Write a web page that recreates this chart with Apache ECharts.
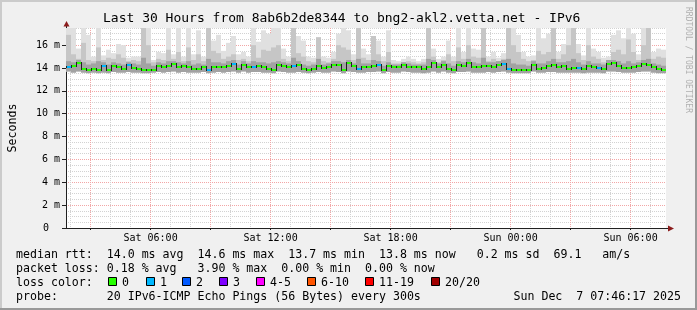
<!DOCTYPE html>
<html><head><meta charset="utf-8">
<script src="https://cdn.jsdelivr.net/npm/echarts@6/dist/echarts.min.js"></script>
<style>html,body{margin:0;padding:0;background:#f0f0f0;}#c{width:697px;height:310px;}</style>
</head><body><div id="c"></div>
<script>
// ---- data (milliseconds), 15-minute bins starting Sat 01:46:17 ----
const startHour = 1 + 46/60 + 17/3600;   // hours since Sat 00:00
const spanHours = 30;
const stepHours = 0.25;

const medianMs = [
 14.1,14.15,14.45,13.9,13.8,13.95,13.8,14.2,13.85,14.2,
 14.05,13.95,14.25,14.0,13.95,13.8,13.8,13.85,14.15,14.05,
 14.2,14.35,14.1,14.2,14.05,13.95,13.95,14.05,13.85,14.05,
 14.1,14.1,14.2,14.35,13.9,14.3,14.05,14.1,14.15,14.05,
 13.9,13.85,14.25,14.15,14.1,14.15,14.25,13.9,13.85,13.95,
 14.2,14.0,14.05,14.3,14.25,13.8,14.4,14.15,13.95,14.05,
 14.1,14.2,14.3,13.8,14.15,14.05,14.1,14.3,14.1,14.05,
 14.05,13.95,14.05,14.4,14.1,14.3,13.9,13.85,14.25,14.2,
 14.4,14.1,14.05,14.15,14.2,14.1,14.25,14.35,13.95,13.85,
 13.8,13.85,13.85,14.3,13.95,14.0,14.2,14.25,14.1,14.15,
 13.95,14.0,14.0,13.9,14.15,14.1,14.0,13.95,14.35,14.4,
 14.2,14.0,14.0,14.05,14.15,14.35,14.3,14.05,13.9,13.85];

const smokeMinMs = [
 13.7,13.6,13.7,13.6,13.55,13.6,13.55,13.6,13.55,13.65,
 13.6,13.6,13.65,13.6,13.6,13.55,13.55,13.6,13.65,13.6,
 13.65,13.7,13.6,13.65,13.6,13.6,13.6,13.65,13.55,13.6,
 13.65,13.6,13.65,13.7,13.6,13.7,13.6,13.65,13.65,13.6,
 13.6,13.55,13.7,13.65,13.6,13.6,13.65,13.6,13.55,13.6,
 13.65,13.6,13.6,13.7,13.65,13.55,13.7,13.65,13.6,13.6,
 13.65,13.65,13.7,13.55,13.65,13.6,13.6,13.7,13.65,13.6,
 13.6,13.55,13.6,13.7,13.6,13.7,13.6,13.55,13.65,13.65,
 13.7,13.6,13.6,13.6,13.65,13.6,13.65,13.7,13.6,13.55,
 13.55,13.55,13.55,13.7,13.6,13.6,13.65,13.65,13.6,13.6,
 13.6,13.6,13.6,13.55,13.6,13.6,13.6,13.55,13.7,13.7,
 13.65,13.6,13.6,13.6,13.65,13.7,13.7,13.6,13.55,13.55];

const smokeDarkMs = [
 14.6,14.5,14.7,14.5,14.3,14.4,14.6,14.5,14.3,14.5,
 14.4,14.3,14.5,14.4,14.3,14.9,14.4,14.2,14.5,14.4,
 14.6,14.6,14.5,14.4,14.6,14.3,14.4,14.3,14.8,14.5,
 14.5,14.4,14.6,14.7,14.3,14.6,14.4,14.6,14.5,14.5,
 14.4,14.5,14.6,14.5,14.4,14.9,14.6,14.3,14.2,14.3,
 14.8,14.3,14.4,14.6,14.6,14.5,14.7,14.4,14.8,14.4,
 14.4,14.7,14.6,14.2,14.5,14.3,14.3,14.5,14.4,14.3,
 14.3,14.3,14.8,14.7,14.4,14.6,14.4,14.2,14.6,14.5,
 14.8,14.5,14.4,14.9,14.5,14.5,14.6,14.7,14.8,14.4,
 14.3,14.3,14.2,14.6,14.4,14.4,14.6,14.8,14.5,14.5,
 14.6,14.8,14.5,14.3,14.6,14.4,14.4,14.3,14.7,14.7,
 14.6,14.4,14.6,14.4,14.5,14.7,14.8,14.4,14.3,14.2];

const smokeMidMs = [
 16.9,15.2,14.8,16.2,14.7,14.6,15.8,14.7,14.9,14.8,
 15.2,14.9,14.6,14.7,14.6,17.5,16.0,14.5,14.8,14.7,
 15.6,14.8,15.4,14.6,15.8,14.7,15.2,14.6,17.5,15.5,
 15.3,14.8,15.0,15.2,14.7,14.8,14.6,16.0,14.9,15.6,
 15.5,15.8,16.0,14.8,14.6,17.5,15.3,15.0,14.6,14.5,
 16.7,14.6,14.5,14.8,16.0,15.8,15.6,14.7,17.5,14.9,
 14.7,16.8,15.2,14.6,15.4,14.4,14.4,14.5,14.6,14.5,
 14.4,14.5,17.5,15.0,14.5,14.7,15.2,14.6,15.8,14.8,
 16.0,15.0,14.9,17.5,14.6,14.8,14.6,14.8,17.5,16.0,
 15.4,14.8,14.6,14.7,15.5,15.2,15.4,17.5,14.8,15.2,
 16.0,17.5,15.3,14.7,16.0,15.0,14.8,14.5,14.6,15.4,
 15.6,15.2,16.5,15.4,14.7,16.0,17.5,14.8,15.0,14.9];

const smokeMaxMs = [
 17.5,17.5,15.7,17.5,16.9,15.0,17.5,15.1,15.6,15.3,
 16.1,16.0,14.9,15.0,15.0,17.5,17.5,14.7,15.4,15.3,
 17.5,15.2,17.5,15.0,17.5,15.2,17.3,15.0,17.5,16.4,
 16.9,15.5,16.2,16.8,15.2,15.4,15.0,17.5,16.3,17.3,
 17.0,17.5,17.5,15.7,15.0,17.5,16.8,16.4,15.0,14.9,
 16.6,15.0,14.9,15.4,17.0,17.5,17.3,15.2,17.5,15.7,
 15.2,16.8,16.4,15.0,17.3,14.7,14.6,14.8,15.0,14.8,
 14.6,14.8,17.5,15.7,14.8,15.0,16.4,15.0,17.5,15.4,
 17.5,15.7,15.6,17.5,15.0,15.4,14.9,15.3,17.5,17.5,
 16.9,15.4,15.0,15.1,17.5,16.6,17.0,17.5,15.4,16.1,
 17.5,17.5,16.1,15.1,17.5,15.7,15.4,14.9,15.0,16.9,
 17.3,16.6,17.5,17.0,15.2,17.5,17.5,15.4,15.7,15.6];

// lost pings (of 20) per bin
const lossPings = [
 1,0,0,0,0,0,0,1,0,0, 0,0,1,0,0,0,0,0,0,0,
 0,0,0,0,0,0,0,0,1,0, 0,0,0,1,0,0,0,1,0,0,
 0,0,0,0,0,1,0,0,0,0, 0,0,0,0,0,0,0,0,1,0,
 0,0,1,0,0,0,0,0,0,0, 0,0,0,0,0,0,0,0,0,0,
 0,0,0,0,0,0,0,1,1,0, 0,0,0,0,0,0,0,0,0,0,
 0,0,1,0,0,0,1,0,0,0, 0,0,0,0,0,0,0,0,0,0];

const yMajorTicks = [0,2,4,6,8,10,12,14,16];
const yMinorTicks = [0.5,1,1.5,2.5,3,3.5,4.5,5,5.5,6.5,7,7.5,8.5,9,9.5,10.5,11,11.5,12.5,13,13.5,14.5,15,15.5,16.5,17,17.5];
const xMinorTicks = [2,4,5,7,8,10,11,13,14,16,17,19,20,22,23,25,26,28,29,31];
const xMajorTicks = [3,6,9,12,15,18,21,24,27,30];
const xLabelTicks = [6,12,18,24,30];

const lossColors = ['#26ff00','#00b8ff','#0059ff','#7e00ff','#ff00ff','#ff5500','#ff0000','#a10000'];
const lossLabels = ['0','1','2','3','4-5','6-10','11-19','20/20'];

const titleText = 'Last 30 Hours from 8ab6b2de8344 to bng2-akl2.vetta.net - IPv6';
const legendLines = [
 'median rtt:  14.0 ms avg  14.6 ms max  13.7 ms min  13.8 ms now   0.2 ms sd  69.1   am/s',
 'packet loss: 0.18 % avg   3.90 % max  0.00 % min  0.00 % now',
 'loss color:',
 'probe:       20 IPv6-ICMP Echo Pings (56 Bytes) every 300s'
];
const dateText = 'Sun Dec  7 07:46:17 2025';
const watermark = 'RRDTOOL / TOBI OETIKER';

// ---- build ----
const MONO = 'DejaVu Sans Mono';
function lossColor(n){
  if(n<=0) return lossColors[0];
  if(n===1) return lossColors[1];
  if(n===2) return lossColors[2];
  if(n===3) return lossColors[3];
  if(n<=5) return lossColors[4];
  if(n<=10) return lossColors[5];
  if(n<=19) return lossColors[6];
  return lossColors[7];
}
const rows = medianMs.map((m,i)=>[
  startHour + i*stepHours, smokeMinMs[i], smokeDarkMs[i], smokeMidMs[i], smokeMaxMs[i],
  m, i>0 ? medianMs[i-1] : m, lossPings[i]
]);

function renderSmoke(params, api){
  const t = api.value(0);
  const x0 = api.coord([t,0])[0], x1 = api.coord([t+stepHours,0])[0];
  const yLo = api.coord([t, api.value(1)])[1];
  const yDk = api.coord([t, api.value(2)])[1];
  const yMd = api.coord([t, api.value(3)])[1];
  const yHi = api.coord([t, api.value(4)])[1];
  return {type:'group', children:[
    {type:'rect', shape:{x:x0,y:yHi,width:x1-x0,height:yLo-yHi}, style:{fill:'#e0e0e0'}},
    {type:'rect', shape:{x:x0,y:yMd,width:x1-x0,height:yLo-yMd}, style:{fill:'#c6c6c6'}},
    {type:'rect', shape:{x:x0,y:yDk,width:x1-x0,height:yLo-yDk}, style:{fill:'#a2a2a2'}}
  ]};
}
function renderMedian(params, api){
  const t = api.value(0);
  const x0 = Math.round(api.coord([t,0])[0]), x1 = Math.round(api.coord([t+stepHours,0])[0]);
  const y = Math.round(api.coord([t, api.value(5)])[1]);
  const yp = Math.round(api.coord([t, api.value(6)])[1]);
  const top = Math.min(y,yp), bot = Math.max(y,yp);
  return {type:'group', children:[
    {type:'rect', shape:{x:x0,y:top-1,width:1,height:bot-top+2}, style:{fill:'#202020'}},
    {type:'rect', shape:{x:x0+1,y:y-1,width:x1-x0-1,height:2}, style:{fill:lossColor(api.value(7))}}
  ]};
}
function xLabel(v){
  const d = v < 24 ? 'Sat' : 'Sun';
  const h = Math.round(v % 24);
  return d + ' ' + (h<10?'0':'') + h + ':00';
}

const chart = echarts.init(document.getElementById('c'), null, {renderer:'canvas'});
const dotGrey = {color:'#d2d2d2', type:'dotted', width:1};
const dotRed = {color:'#f2a6a6', type:'dotted', width:1};
const gridLeft = 66, gridTop = 28, gridRight = 31, gridBottom = 82;

const graphics = [
  {type:'rect', shape:{x:0,y:0,width:697,height:2}, style:{fill:'#cbcbcb'}, silent:true},
  {type:'rect', shape:{x:0,y:0,width:2,height:310}, style:{fill:'#cbcbcb'}, silent:true},
  {type:'rect', shape:{x:695,y:0,width:2,height:310}, style:{fill:'#999999'}, silent:true},
  {type:'rect', shape:{x:0,y:308,width:697,height:2}, style:{fill:'#999999'}, silent:true},
  {type:'text', x:103, y:19, style:{text:titleText, font:'13px "'+MONO+'"', fill:'#000', verticalAlign:'middle'}},
  {type:'text', x:688, y:60, rotation:-Math.PI/2, style:{text:watermark, font:'8px "'+MONO+'"', fill:'#b0b0b0', align:'center', verticalAlign:'middle'}}
];
const legendY = [254.5, 268.5, 282.5, 296.5];
legendLines.forEach((s,i)=>graphics.push({type:'text', x:16, y:legendY[i], style:{text:s, font:'11.6px "'+MONO+'"', fill:'#000', verticalAlign:'middle'}}));
graphics.push({type:'text', x:681, y:legendY[3], style:{text:dateText, font:'11.6px "'+MONO+'"', fill:'#000', align:'right', verticalAlign:'middle'}});
const boxX = [108,146,182,219,256,307,365,431];
lossLabels.forEach((lab,i)=>{
  graphics.push({type:'rect', shape:{x:boxX[i]+0.5,y:277.5,width:8,height:8}, style:{fill:lossColors[i], stroke:'#000', lineWidth:1}});
  graphics.push({type:'text', x:boxX[i]+14, y:legendY[2], style:{text:lab, font:'11.6px "'+MONO+'"', fill:'#000', verticalAlign:'middle'}});
});

const option = {
  animation:false,
  backgroundColor:'#f0f0f0',
  grid:{left:gridLeft, top:gridTop, right:gridRight, bottom:gridBottom, show:true, backgroundColor:'#ffffff', borderWidth:0,
        containLabel:false, outerBoundsMode:'none'},
  xAxis:[
    {type:'value', min:startHour, max:startHour+spanHours, position:'bottom',
     axisLine:{show:false}, axisLabel:{show:false},
     axisTick:{show:false, customValues:xMinorTicks},
     splitLine:{show:true, lineStyle:dotGrey}},
    {type:'value', min:startHour, max:startHour+spanHours, position:'bottom',
     axisLine:{show:true, lineStyle:{color:'#202020', width:1}},
     axisTick:{show:true, customValues:xMajorTicks, length:2, lineStyle:{color:'#202020'}},
     axisLabel:{show:true, customValues:xLabelTicks, formatter:xLabel, margin:5,
       fontFamily:MONO, fontSize:10, color:'#000'},
     splitLine:{show:true, lineStyle:dotRed}}
  ],
  yAxis:[
    {type:'value', min:0, max:17.5, position:'left',
     axisLine:{show:false}, axisLabel:{show:false},
     axisTick:{show:false, customValues:yMinorTicks},
     splitLine:{show:true, lineStyle:dotGrey}},
    {type:'value', min:0, max:17.5, position:'left',
     name:'Seconds', nameLocation:'middle', nameGap:47, nameRotate:90,
     nameTextStyle:{fontFamily:MONO, fontSize:11.6, color:'#000'},
     axisLine:{show:true, lineStyle:{color:'#202020', width:1}},
     axisTick:{show:true, customValues:yMajorTicks, length:4, lineStyle:{color:'#202020'}},
     axisLabel:{show:true, customValues:yMajorTicks, margin:6, fontFamily:MONO, fontSize:10, color:'#000',
       formatter:v=> v===0 ? '{z|0}' : (v+' m'),
       rich:{z:{fontFamily:MONO, fontSize:10, color:'#000', padding:[0,11,0,0]}}},
     splitLine:{show:true, lineStyle:dotRed}}
  ],
  series:[
    {type:'custom', name:'smoke', xAxisIndex:1, yAxisIndex:1, renderItem:renderSmoke,
     encode:{x:0, y:4}, data:rows, clip:true, z:3, silent:true},
    {type:'custom', name:'median', xAxisIndex:1, yAxisIndex:1, renderItem:renderMedian,
     encode:{x:0, y:5}, data:rows, clip:true, z:4, silent:true}
  ],
  graphic:graphics
};
chart.setOption(option);

// axis arrows (rrdtool style), placed via the chart's own coordinate conversion
const pTop = chart.convertToPixel({xAxisIndex:1, yAxisIndex:1}, [startHour, 17.5]);
const pEnd = chart.convertToPixel({xAxisIndex:1, yAxisIndex:1}, [startHour+spanHours, 0]);
const ax = Math.round(pTop[0]) + 0.5, ay = Math.round(pEnd[1]) + 0.5;
chart.setOption({graphic: graphics.concat([
  {type:'line', shape:{x1:ax, y1:pTop[1], x2:ax, y2:pTop[1]-3}, style:{stroke:'#202020', lineWidth:1}},
  {type:'polygon', shape:{points:[[ax-3,pTop[1]-1.5],[ax+3,pTop[1]-1.5],[ax,pTop[1]-7]]}, style:{fill:'#8b1c1c'}},
  {type:'line', shape:{x1:pEnd[0], y1:ay, x2:pEnd[0]+3, y2:ay}, style:{stroke:'#202020', lineWidth:1}},
  {type:'polygon', shape:{points:[[pEnd[0]+2,ay-3],[pEnd[0]+2,ay+3],[pEnd[0]+8,ay]]}, style:{fill:'#8b1c1c'}}
])});
</script></body></html>
